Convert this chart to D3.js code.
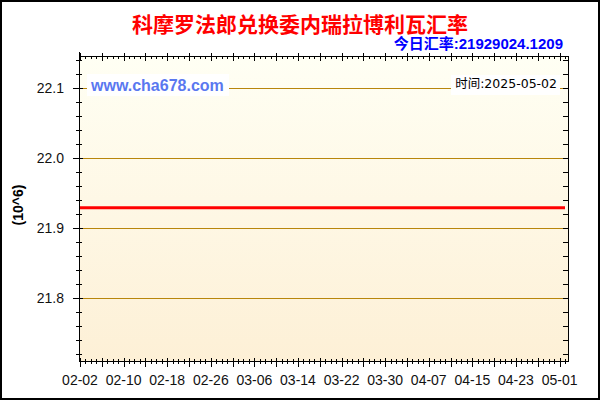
<!DOCTYPE html>
<html>
<head>
<meta charset="utf-8">
<script src="https://cdn.jsdelivr.net/npm/d3@7"></script>
<style>
  body { margin: 0; background: #fff; }
  text { font-family: "Liberation Sans", Arial, "Noto Sans CJK SC", sans-serif; }
</style>
</head>
<body>
<script>
// Chart data
const TITLE = "科摩罗法郎兑换委内瑞拉博利瓦汇率";
const RATE_TEXT = "今日汇率:21929024.1209";
const TIME_TEXT = "时间:2025-05-02";
const SITE_TEXT = "www.cha678.com";
const UNIT_TEXT = "(10^6)";
const dates = ["2025-02-02", "2025-02-10", "2025-02-18", "2025-02-26", "2025-03-06",
    "2025-03-14", "2025-03-22", "2025-03-30", "2025-04-07", "2025-04-15",
    "2025-04-23", "2025-05-01", "2025-05-02"];
const rates = [21.929024, 21.929024, 21.929024, 21.929024, 21.929024,
    21.929024, 21.929024, 21.929024, 21.929024, 21.929024,
    21.929024, 21.929024, 21.929024];
const yGridValues = [21.8, 21.9, 22.0, 22.1];
const yDomain = [21.71, 22.146];

const WIDTH = 600;
const HEIGHT = 400;
const PLOT = { left: 79, right: 568, top: 56, bottom: 361 };

const parse = d3.timeParse("%Y-%m-%d");
const data = dates.map((d, i) => ({ date: parse(d), rate: rates[i] }));
const start = data[0].date;
const end = data[data.length - 1].date;

const xScale = d3.scaleTime()
    .domain([start, end])
    .range([80, 565]);
const yScale = d3.scaleLinear()
    .domain(yDomain)
    .range([PLOT.bottom, PLOT.top]);

const svg = d3.select("body").append("svg")
    .attr("width", WIDTH)
    .attr("height", HEIGHT);

// Background gradient
const grad = svg.append("defs").append("linearGradient")
    .attr("id", "bg").attr("x1", 0).attr("y1", 0).attr("x2", 0).attr("y2", 1);
grad.append("stop").attr("offset", "0%").attr("stop-color", "#fffff4");
grad.append("stop").attr("offset", "100%").attr("stop-color", "#fdf0d6");

svg.append("rect")
    .attr("x", PLOT.left).attr("y", PLOT.top)
    .attr("width", PLOT.right - PLOT.left)
    .attr("height", PLOT.bottom - PLOT.top)
    .style("fill", "url(#bg)");

// Outer border
svg.append("rect")
    .attr("x", 1).attr("y", 1)
    .attr("width", WIDTH - 2).attr("height", HEIGHT - 2)
    .style("fill", "none").style("stroke", "#000").style("stroke-width", 2);

// Horizontal grid lines
svg.append("g")
    .selectAll("line")
    .data(yGridValues)
    .join("line")
    .attr("x1", PLOT.left)
    .attr("x2", PLOT.right - 5)
    .attr("y1", d => Math.round(yScale(d)) + 0.5)
    .attr("y2", d => Math.round(yScale(d)) + 0.5)
    .style("stroke", "#b8860b")
    .style("stroke-width", 1);

// Watermark and time labels with white boxes
svg.append("rect").attr("x", 87).attr("y", 74).attr("width", 142).attr("height", 22).style("fill", "#fff");
svg.append("text")
    .text(SITE_TEXT)
    .attr("x", 91).attr("y", 91)
    .style("font-size", "16px").style("font-weight", "bold")
    .style("fill", "#5a78f0");

svg.append("rect").attr("x", 451).attr("y", 75).attr("width", 109).attr("height", 20).style("fill", "#fff");
svg.append("text")
    .text(TIME_TEXT)
    .attr("x", 557).attr("y", 88)
    .attr("text-anchor", "end")
    .style("font-family", "'DejaVu Sans', 'Noto Sans CJK SC', sans-serif")
    .style("font-size", "12.5px")
    .style("fill", "#000");

// Rate line
const line = d3.line()
    .x(d => xScale(d.date))
    .y(d => yScale(d.rate));
svg.append("path")
    .datum(data)
    .attr("d", line)
    .style("fill", "none")
    .style("stroke", "#ff0000")
    .style("stroke-width", 3);

// Axis frame
svg.append("g")
    .style("stroke", "#000")
    .style("stroke-width", 1)
    .call(g => {
        g.append("line").attr("x1", PLOT.left + 0.5).attr("x2", PLOT.left + 0.5).attr("y1", PLOT.top - 4).attr("y2", PLOT.bottom + 1);
        g.append("line").attr("x1", PLOT.right + 0.5).attr("x2", PLOT.right + 0.5).attr("y1", PLOT.top).attr("y2", PLOT.bottom + 1);
        g.append("line").attr("x1", PLOT.left).attr("x2", PLOT.right + 1).attr("y1", PLOT.top + 0.5).attr("y2", PLOT.top + 0.5);
        g.append("line").attr("x1", PLOT.left).attr("x2", PLOT.right + 1).attr("y1", PLOT.bottom + 0.5).attr("y2", PLOT.bottom + 0.5);
    });

// X ticks: daily minor, every 4 days major, labels every 8 days
const dayTicks = d3.timeDay.range(start, d3.timeDay.offset(end, 1));
const majorX = d3.timeDay.range(start, d3.timeDay.offset(end, 1), 4);
const labelX = d3.timeDay.range(start, d3.timeDay.offset(end, 1), 8);
const px = d => Math.round(xScale(d)) + 0.5;

const xTicks = svg.append("g").style("stroke", "#000");
xTicks.selectAll(".minb").data(dayTicks).join("line")
    .attr("x1", px).attr("x2", px)
    .attr("y1", PLOT.bottom - 2).attr("y2", PLOT.bottom + 3);
xTicks.selectAll(".majb").data(majorX).join("line")
    .attr("x1", px).attr("x2", px)
    .attr("y1", PLOT.bottom - 3).attr("y2", PLOT.bottom + 6);
xTicks.selectAll(".mint").data(dayTicks).join("line")
    .attr("x1", px).attr("x2", px)
    .attr("y1", PLOT.top).attr("y2", PLOT.top + 3);
xTicks.selectAll(".majt").data(majorX).join("line")
    .attr("x1", px).attr("x2", px)
    .attr("y1", PLOT.top - 3).attr("y2", PLOT.top + 5);

svg.append("g")
    .selectAll("text")
    .data(labelX)
    .join("text")
    .text(d3.timeFormat("%m-%d"))
    .attr("x", d => xScale(d))
    .attr("y", 385)
    .attr("text-anchor", "middle")
    .style("font-size", "14px")
    .style("fill", "#111");

// Y ticks: minor every 0.02, major every 0.1
const minorY = d3.range(21.72, 22.15, 0.02).map(v => +v.toFixed(2));
const py = d => Math.round(yScale(d)) + 0.5;
const yTicks = svg.append("g").style("stroke", "#000");
yTicks.selectAll(".minl").data(minorY).join("line")
    .attr("x1", PLOT.left - 3).attr("x2", PLOT.left + 3)
    .attr("y1", py).attr("y2", py);
yTicks.selectAll(".majl").data(yGridValues).join("line")
    .attr("x1", PLOT.left - 6).attr("x2", PLOT.left + 4)
    .attr("y1", py).attr("y2", py);
yTicks.selectAll(".minr").data(minorY).join("line")
    .attr("x1", PLOT.right - 5).attr("x2", PLOT.right)
    .attr("y1", py).attr("y2", py);

svg.append("g")
    .selectAll("text")
    .data(yGridValues)
    .join("text")
    .text(d => d3.format(".1f")(d))
    .attr("x", 64)
    .attr("y", d => yScale(d) + 5)
    .attr("text-anchor", "end")
    .style("font-size", "14px")
    .style("fill", "#111");

// Unit label
svg.append("text")
    .text(UNIT_TEXT)
    .attr("transform", "translate(23,205) rotate(-90)")
    .attr("text-anchor", "middle")
    .style("font-size", "14px")
    .style("font-weight", "bold")
    .style("fill", "#000");

// Title and current rate
svg.append("text")
    .text(TITLE)
    .attr("x", 300).attr("y", 32)
    .attr("text-anchor", "middle")
    .style("font-size", "21px")
    .style("font-weight", "bold")
    .style("fill", "#ff0000");

svg.append("text")
    .text(RATE_TEXT)
    .attr("x", 563).attr("y", 49)
    .attr("text-anchor", "end")
    .style("font-size", "15px")
    .style("font-weight", "bold")
    .style("fill", "#0000ff");
</script>
</body>
</html>
